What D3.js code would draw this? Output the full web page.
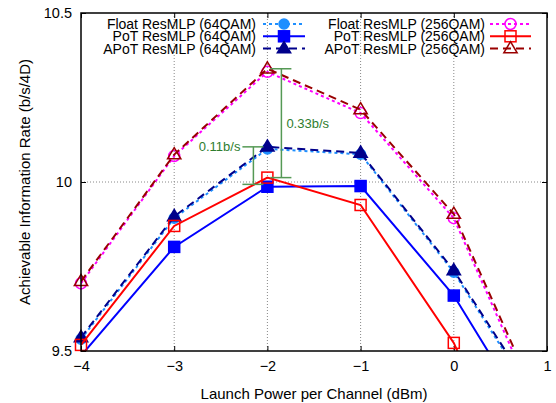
<!DOCTYPE html>
<html>
<head>
<meta charset="utf-8">
<script src="https://cdn.jsdelivr.net/npm/d3@7"></script>
<style>
  body { margin: 0; background: #fff; }
  text { font-family: "Liberation Sans", Arial, sans-serif; }
</style>
</head>
<body>
<div id="chart"></div>
<script>
// Data________________________________________________________________
const powers = [-4, -3, -2, -1, 0, 1];
const floatQ64 = [9.535, 9.893, 10.098, 10.082, 9.733, 9.30];
const potQ64 = [9.486, 9.808, 9.986, 9.988, 9.664, 9.215];
const apotQ64 = [9.540, 9.898, 10.104, 10.086, 9.738, 9.31];
const floatQ256 = [9.700, 10.077, 10.326, 10.204, 9.893, 9.27];
const potQ256 = [9.518, 9.870, 10.013, 9.932, 9.524, 8.90];
const apotQ256 = [9.706, 10.081, 10.335, 10.214, 9.905, 9.29];
const xTicks = [-4, -3, -2, -1, 0, 1];
const yTicks = [9.5, 10, 10.5];
const gaps = [
  { label: '0.33b/s', top: 10.335, bottom: 10.013 },
  { label: '0.11b/s', top: 10.104, bottom: 9.993 }
];

const series = [
  { name: 'Float ResMLP (64QAM)', values: floatQ64, color: '#1e8fff', dash: '3,3', marker: 'circle', fill: true },
  { name: 'PoT ResMLP (64QAM)', values: potQ64, color: '#0000ff', dash: null, marker: 'square', fill: true },
  { name: 'APoT ResMLP (64QAM)', values: apotQ64, color: '#00008b', dash: '8,5', marker: 'triangle', fill: true },
  { name: 'Float ResMLP (256QAM)', values: floatQ256, color: '#ff00ff', dash: '3,3', marker: 'circle', fill: false },
  { name: 'PoT ResMLP (256QAM)', values: potQ256, color: '#ff0000', dash: null, marker: 'square', fill: false },
  { name: 'APoT ResMLP (256QAM)', values: apotQ256, color: '#990000', dash: '8,5', marker: 'triangle', fill: false }
];

// Layout______________________________________________________________
const width = 556, height = 403;
const margin = { left: 81, right: 9, top: 13, bottom: 52 };
const innerW = width - margin.left - margin.right;
const innerH = height - margin.top - margin.bottom;
const fontSize = 15;

const x = d3.scaleLinear().domain([-4, 1]).range([0, innerW]);
const y = d3.scaleLinear().domain([9.5, 10.5]).range([innerH, 0]);

const svg = d3.select('#chart').append('svg')
  .attr('width', width)
  .attr('height', height);

const g = svg.append('g').attr('transform', `translate(${margin.left},${margin.top})`);

svg.append('defs').append('clipPath').attr('id', 'clip')
  .append('rect').attr('width', innerW).attr('height', innerH);

// Grid________________________________________________________________
g.append('g').selectAll('line')
  .data(xTicks.slice(1, -1))
  .enter().append('line')
  .attr('x1', d => x(d)).attr('x2', d => x(d))
  .attr('y1', 0).attr('y2', innerH)
  .attr('stroke', '#888').attr('stroke-width', 1).attr('stroke-dasharray', '1,2');
g.append('g').selectAll('line')
  .data(yTicks.slice(1, -1))
  .enter().append('line')
  .attr('y1', d => y(d)).attr('y2', d => y(d))
  .attr('x1', 0).attr('x2', innerW)
  .attr('stroke', '#888').attr('stroke-width', 1).attr('stroke-dasharray', '1,2');

// Axes________________________________________________________________
const fmtX = d => d < 0 ? '\u2212' + Math.abs(d) : String(d);
g.append('g')
  .attr('transform', `translate(0,${innerH})`)
  .call(d3.axisBottom(x).tickValues(xTicks).tickFormat(fmtX).tickSizeInner(-5).tickSizeOuter(0).tickPadding(10))
  .call(a => a.select('.domain').remove());
g.append('g')
  .call(d3.axisTop(x).tickValues(xTicks).tickFormat('').tickSizeInner(-5).tickSizeOuter(0))
  .call(a => a.select('.domain').remove());
g.append('g')
  .call(d3.axisLeft(y).tickValues(yTicks).tickFormat(d => String(d)).tickSizeInner(-5).tickSizeOuter(0).tickPadding(9))
  .call(a => a.select('.domain').remove());
g.append('g')
  .attr('transform', `translate(${innerW},0)`)
  .call(d3.axisRight(y).tickValues(yTicks).tickFormat('').tickSizeInner(-5).tickSizeOuter(0))
  .call(a => a.select('.domain').remove());
g.selectAll('.tick text').attr('font-size', 14.5).attr('fill', '#000')
  .style('font-family', '"Liberation Sans", Arial, sans-serif');
g.selectAll('.tick line').attr('stroke', '#000');

// Markers_____________________________________________________________
function drawMarker(sel, s, cx, cy) {
  const fill = s.fill ? s.color : 'none';
  if (s.marker === 'circle') {
    sel.append('circle').attr('cx', cx).attr('cy', cy).attr('r', s.fill ? 5 : 5.5)
      .attr('fill', fill).attr('stroke', s.color).attr('stroke-width', 1.5);
  } else if (s.marker === 'square') {
    sel.append('rect').attr('x', cx - 5.5).attr('y', cy - 5.5).attr('width', 11).attr('height', 11)
      .attr('fill', fill).attr('stroke', s.color).attr('stroke-width', 1.5);
  } else {
    const r = 7;
    sel.append('path')
      .attr('d', `M${cx},${cy - r}L${cx + r * 0.95},${cy + r * 0.6}L${cx - r * 0.95},${cy + r * 0.6}Z`)
      .attr('fill', fill).attr('stroke', s.color).attr('stroke-width', 1.5);
  }
}

// Series______________________________________________________________
const line = d3.line().x(d => x(d[0])).y(d => y(d[1]));
series.forEach(s => {
  const pts = powers.map((p, i) => [p, s.values[i]]);
  g.append('path')
    .datum(pts)
    .attr('clip-path', 'url(#clip)')
    .attr('d', line)
    .attr('fill', 'none')
    .attr('stroke', s.color)
    .attr('stroke-width', 2)
    .attr('stroke-dasharray', s.dash);
  const mg = g.append('g');
  pts.filter(d => d[1] >= 9.5 && d[1] <= 10.5)
    .forEach(d => drawMarker(mg, s, x(d[0]), y(d[1])));
});

// Gap annotations_____________________________________________________
const gapX = [x(-2) + 14, x(-2) - 14];
gaps.forEach((d, i) => {
  const ag = g.append('g').attr('stroke', '#559955').attr('stroke-width', 1.5);
  ag.append('line').attr('x1', gapX[i]).attr('x2', gapX[i]).attr('y1', y(d.top)).attr('y2', y(d.bottom));
  ag.append('line').attr('x1', gapX[i] - 11).attr('x2', gapX[i] + 10).attr('y1', y(d.top)).attr('y2', y(d.top));
  ag.append('line').attr('x1', gapX[i] - 11).attr('x2', gapX[i] + 10).attr('y1', y(d.bottom)).attr('y2', y(d.bottom));
});
g.append('text')
  .attr('x', gapX[0] + 5).attr('y', (y(gaps[0].top) + y(gaps[0].bottom)) / 2 + 4.5)
  .attr('font-size', 13).attr('fill', '#2e7d2e').text(gaps[0].label);
g.append('text')
  .attr('x', gapX[1] - 13).attr('y', y(gaps[1].top) + 4.5).attr('text-anchor', 'end')
  .attr('font-size', 13).attr('fill', '#2e7d2e').text(gaps[1].label);

// Frame_______________________________________________________________
g.append('rect').attr('width', innerW).attr('height', innerH)
  .attr('fill', 'none').attr('stroke', '#000').attr('stroke-width', 1.5);

// Legend______________________________________________________________
const legendCols = [{ textEnd: 256 - margin.left, x0: 263 - margin.left, x1: 305 - margin.left },
                    { textEnd: 485 - margin.left, x0: 490 - margin.left, x1: 531 - margin.left }];
const legend = g.append('g');
series.forEach((s, i) => {
  const col = legendCols[Math.floor(i / 3)];
  const ly = 11 + (i % 3) * 12.3;
  legend.append('text')
    .attr('x', col.textEnd).attr('y', ly + 5)
    .attr('text-anchor', 'end').attr('font-size', 14).text(s.name);
  legend.append('line')
    .attr('x1', col.x0).attr('x2', col.x1).attr('y1', ly).attr('y2', ly)
    .attr('stroke', s.color).attr('stroke-width', 2).attr('stroke-dasharray', s.dash);
  drawMarker(legend, s, (col.x0 + col.x1) / 2, ly);
});

// Axis titles_________________________________________________________
svg.append('text')
  .attr('x', margin.left + innerW / 2).attr('y', 399)
  .attr('text-anchor', 'middle').attr('font-size', fontSize)
  .text('Launch Power per Channel (dBm)');
svg.append('text')
  .attr('transform', `translate(30,${margin.top + innerH / 2}) rotate(-90)`)
  .attr('text-anchor', 'middle').attr('font-size', fontSize)
  .text('Achievable Information Rate (b/s/4D)');
</script>
</body>
</html>
